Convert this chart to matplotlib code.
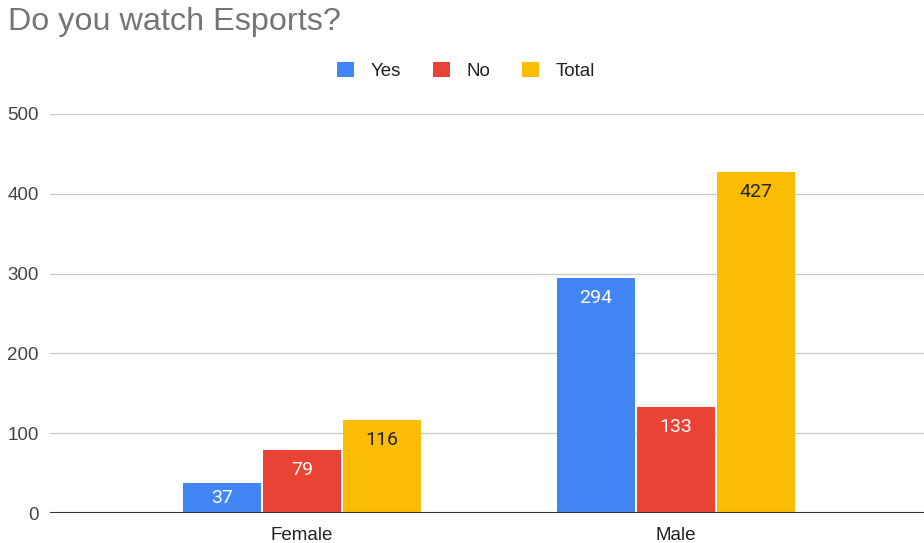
import matplotlib
matplotlib.use("Agg")
import matplotlib.pyplot as plt
from matplotlib.patches import Patch
import numpy as np

plt.rcParams["font.family"] = ["Liberation Sans", "DejaVu Sans"]

categories = ["Female", "Male"]
series = ["Yes", "No", "Total"]
yes = [37, 294]
no = [79, 133]
total = [116, 427]
colors = ["#4285F4", "#EA4335", "#FBBC04"]
label_colors = ["white", "white", "#222222"]

fig = plt.figure(figsize=(9.24, 5.43), dpi=100)
ax = fig.add_axes([50 / 924, 1 - 513 / 543, 1 - 50 / 924, (513 - 114) / 543])

x = np.arange(len(categories))
step = 0.214
width = 0.209
for i, (name, vals) in enumerate(zip(series, [yes, no, total])):
    pos = x + (i - 1) * step
    ax.bar(pos, vals, width=width, color=colors[i], label=name, zorder=3)
    for px, v in zip(pos, vals):
        # label sits ~20px under the bar top, or centred in short bars
        ty = max(v - 25, v / 2)
        ax.text(px, ty, str(v), ha="center", va="center", fontsize=14,
                family=["Roboto", "DejaVu Sans"], color=label_colors[i], zorder=4)

ax.set_ylim(0, 500)
ax.set_xlim((50 - 302) / 374, (924 - 302) / 374)
ax.set_yticks(range(0, 501, 100))
ax.set_xticks(x)
ax.set_xticklabels(categories)
ax.tick_params(axis="both", length=0, labelsize=13.5)
ax.tick_params(axis="y", pad=8, labelcolor="#444444")
ax.tick_params(axis="x", pad=10, labelcolor="#222222")
ax.grid(axis="y", color="#cccccc", linewidth=1, zorder=0)
for s in ["top", "right", "left", "bottom"]:
    ax.spines[s].set_visible(False)
ax.axhline(0, color="#333333", linewidth=1.5, zorder=5)

fig.text(8 / 924, 1 - 22 / 543, "Do you watch Esports?", fontsize=23.3,
         color="#757575", ha="left", va="center")

handles = [Patch(facecolor=c, label=n) for c, n in zip(colors, series)]
fig.legend(handles=handles, loc="center", bbox_to_anchor=(466 / 924, 1 - 71 / 543),
           ncol=3, frameon=False, fontsize=13.5, handlelength=0.9, handleheight=0.9,
           handletextpad=0.9, columnspacing=1.7, labelcolor="#222222")

fig.savefig("out.png", dpi=100)
